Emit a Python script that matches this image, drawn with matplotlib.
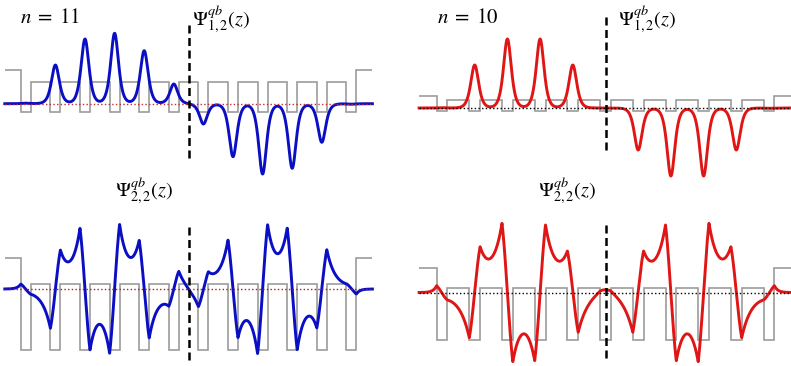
import numpy as np
import matplotlib.pyplot as plt

plt.rcParams['mathtext.fontset'] = 'stix'

W, H = 791, 366

# superlattice geometry (arbitrary length units, 1 unit ~ 1 px of the drawing)
n11_barriers = 11
n11_well, n11_barrier, n11_outer = 10.0, 19.6, 16.0
n10_barriers = 10
n10_well, n10_barrier, n10_outer = 10.8, 21.9, 17.5

# potential levels drawn under each state: outer cladding, barrier, well
n11_levels_12 = [33.7, 21.7, -8.6]
n11_levels_22 = [30.7, 5.3, -60.7]
n10_levels_12 = [12.3, 8.0, -3.0]
n10_levels_22 = [25.0, 4.5, -47.7]

# Psi_12: peak height in every well (left to right)
n11_peaks = [0.5, 38.7, 64.7, 70.4, 53.0, 19.7,
             -20.3, -53.0, -70.3, -64.6, -38.6, -0.5]
n10_peaks = [0.3, 43.0, 69.0, 69.0, 43.0, 0.0,
             -42.0, -68.0, -68.0, -42.0, -0.3]

# Psi_22: value at the left and right edge of every well (left to right)
n11_edges = [5.0, -5.3, -39.3, 39.0, 60.7, -61.0, -64.3, 64.7, 48.7, -49.0, -17.3, 17.7,
             -17.7, 17.3, 49.0, -48.7, -64.7, 64.3, 61.0, -60.7, -39.0, 39.3, 5.3, -5.0]
n10_edges = [6.8, -7.5, -45.2, 45.8, 69.2, -69.2, -68.2, 67.5, 41.5, -39.8, 1.5, 1.5,
             -39.8, 41.5, 67.5, -68.2, -69.2, 69.2, 45.8, -45.2, -7.5, 6.8]


def wells(n, w, b, outer):
    total = n * b + (n + 1) * w
    wl = -total / 2 + np.arange(n + 1) * (w + b)
    return wl, wl + w, total / 2 + outer


def draw_potential(ax, n, w, b, outer, levels):
    wl, wr, zmax = wells(n, w, b, outer)
    v_out, v_bar, v_well = levels
    edges = [-zmax]
    vals = [v_out]
    for i in range(n + 1):
        edges += [wl[i], wr[i]]
        vals += [v_well, v_bar]
    vals[-1] = v_out
    edges.append(zmax)
    ax.stairs(vals, edges, baseline=None, color='#9c9c9c', lw=1.2, zorder=1)
    return zmax


def psi_bumps(z, n, w, b, outer, peaks, s):
    # one localized orbital per well, scaled by its peak height
    wl, wr, _ = wells(n, w, b, outer)
    centres = (wl + wr) / 2
    return sum(p / np.cosh((z - c) / s) ** 1.5 for p, c in zip(peaks, centres))


def psi_edges(z, n, w, b, outer, edges, k, kappa, kappa_out):
    # oscillating inside wells, evanescent in barriers, through the edge values
    wl, wr, _ = wells(n, w, b, outer)
    v = np.asarray(edges).reshape(-1, 2)
    psi = np.zeros_like(z)
    m = z < wl[0]
    psi[m] = v[0, 0] * np.exp(kappa_out * (z[m] - wl[0]))
    m = z > wr[-1]
    psi[m] = v[-1, 1] * np.exp(-kappa_out * (z[m] - wr[-1]))
    for i in range(n + 1):
        a, c = wl[i], wr[i]
        m = (z >= a) & (z <= c)
        psi[m] = (v[i, 0] * np.sin(k * (c - z[m])) + v[i, 1] * np.sin(k * (z[m] - a))) / np.sin(k * (c - a))
        if i < n:
            a2 = wl[i + 1]
            m = (z > c) & (z < a2)
            psi[m] = (v[i, 1] * np.sinh(kappa * (a2 - z[m])) + v[i + 1, 0] * np.sinh(kappa * (z[m] - c))) / np.sinh(kappa * (a2 - c))
    return psi


def panel(fig, x0, x1, y0, y1, zc, yz):
    ax = fig.add_axes([x0 / W, 1 - y1 / H, (x1 - x0) / W, (y1 - y0) / H])
    ax.set_xlim(x0 - zc, x1 - zc)
    ax.set_ylim(yz - y1, yz - y0)
    ax.axis('off')
    return ax


fig = plt.figure(figsize=(W / 100, H / 100), dpi=100)

blue = '#0b0fc4'
red = '#e01515'
tfs = 14.5
lw = 2.1

# ---- n = 11, Psi_12
ax = panel(fig, 0, 395, 0, 183, 188.6, 103.7)
zmax = draw_potential(ax, n11_barriers, n11_well, n11_barrier, n11_outer, n11_levels_12)
z = np.linspace(-zmax, zmax, 4000)
ax.plot(z, psi_bumps(z, n11_barriers, n11_well, n11_barrier, n11_outer, n11_peaks, 4.4),
        color=blue, lw=lw, zorder=2)
ax.plot([-zmax, zmax], [0, 0], ls=':', color='#c03030', lw=1.0, zorder=3)
ax.axvline(0, 0.137, 0.863, color='black', lw=1.8, ls=(0, (3.2, 1.8)), zorder=4)
ax.text(0.051, 0.876, r'$n\;=\;11$', transform=ax.transAxes, fontsize=15, va='baseline')
ax.text(0.485, 0.863, r'$\Psi^{qb}_{1,2}(z)$', transform=ax.transAxes, fontsize=tfs, va='baseline')

# ---- n = 10, Psi_12
ax = panel(fig, 396, 791, 0, 183, 605.5, 108.0)
zmax = draw_potential(ax, n10_barriers, n10_well, n10_barrier, n10_outer, n10_levels_12)
z = np.linspace(-zmax, zmax, 4000)
ax.plot(z, psi_bumps(z, n10_barriers, n10_well, n10_barrier, n10_outer, n10_peaks, 4.4),
        color=red, lw=lw, zorder=2)
ax.plot([-zmax, zmax], [0, 0], ls=':', color='black', lw=1.0, zorder=3)
ax.axvline(0, 0.18, 0.918, color='black', lw=1.8, ls=(0, (3.2, 1.8)), zorder=4)
ax.text(0.103, 0.876, r'$n\;=\;10$', transform=ax.transAxes, fontsize=15, va='baseline')
ax.text(0.562, 0.863, r'$\Psi^{qb}_{1,2}(z)$', transform=ax.transAxes, fontsize=tfs, va='baseline')

# ---- n = 11, Psi_22
ax = panel(fig, 0, 395, 183, 366, 188.6, 289.0)
zmax = draw_potential(ax, n11_barriers, n11_well, n11_barrier, n11_outer, n11_levels_22)
z = np.linspace(-zmax, zmax, 6000)
ax.plot(z, psi_edges(z, n11_barriers, n11_well, n11_barrier, n11_outer, n11_edges, 0.2, 0.12, 0.3),
        color=blue, lw=lw, zorder=2)
ax.plot([-zmax, zmax], [0, 0], ls=':', color='#a82020', lw=1.0, zorder=3)
ax.axvline(0, 0.034, 0.763, color='black', lw=1.8, ls=(0, (3.2, 1.8)), zorder=4)
ax.text(0.291, 0.923, r'$\Psi^{qb}_{2,2}(z)$', transform=ax.transAxes, fontsize=tfs, va='baseline')

# ---- n = 10, Psi_22
ax = panel(fig, 396, 791, 183, 366, 605.5, 292.5)
zmax = draw_potential(ax, n10_barriers, n10_well, n10_barrier, n10_outer, n10_levels_22)
z = np.linspace(-zmax, zmax, 6000)
ax.plot(z, psi_edges(z, n10_barriers, n10_well, n10_barrier, n10_outer, n10_edges, 0.185, 0.1, 0.3),
        color=red, lw=lw, zorder=2)
ax.plot([-zmax, zmax], [0, 0], ls=':', color='black', lw=1.0, zorder=3)
ax.axvline(0, 0.044, 0.772, color='black', lw=1.8, ls=(0, (3.2, 1.8)), zorder=4)
ax.text(0.359, 0.923, r'$\Psi^{qb}_{2,2}(z)$', transform=ax.transAxes, fontsize=tfs, va='baseline')

fig.savefig('out.png', dpi=100)
